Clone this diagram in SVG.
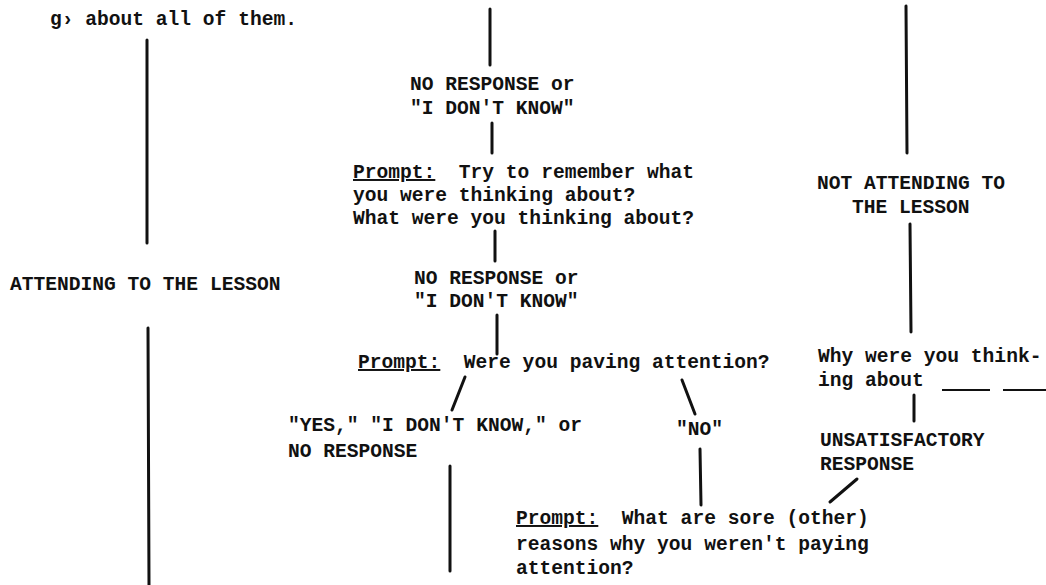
<svg xmlns="http://www.w3.org/2000/svg" width="1046" height="585" viewBox="0 0 1046 585" xml:space="preserve">
<style>
text{font-family:"Liberation Mono","DejaVu Sans Mono",monospace;font-size:19.6px;font-weight:bold;fill:#111;white-space:pre}
.u{text-decoration:underline}
#connectors line{stroke:#111;stroke-width:3;stroke-linecap:round}
.blank{stroke:#111;stroke-width:2}
</style>
<rect width="1046" height="585" fill="#fff"/>
<g id="connectors">
<line x1="147" y1="40" x2="147" y2="243"/>
<line x1="148" y1="328" x2="149" y2="585"/>
<line x1="490" y1="9" x2="490" y2="65"/>
<line x1="492" y1="123" x2="492" y2="153"/>
<line x1="495" y1="231" x2="495" y2="261"/>
<line x1="497" y1="315" x2="497" y2="354"/>
<line x1="465" y1="377" x2="452" y2="410"/>
<line x1="682" y1="380" x2="695" y2="414"/>
<line x1="700" y1="449" x2="701" y2="505"/>
<line x1="450" y1="466" x2="450" y2="571"/>
<line x1="906" y1="6" x2="907" y2="153"/>
<line x1="910" y1="224" x2="911" y2="332"/>
<line x1="914" y1="395" x2="914" y2="421"/>
<line x1="857" y1="479" x2="830" y2="502"/>
</g>
<g id="n-top-left"><text x="50" y="25">g› about all of them.</text></g>
<g id="n-no-response-1"><text x="410" y="90">NO RESPONSE or</text><text x="410" y="114">"I DON'T KNOW"</text></g>
<g id="n-prompt-remember"><text x="353" y="178"><tspan class="u">Prompt:</tspan>  Try to remember what</text><text x="353" y="201">you were thinking about?</text><text x="353" y="224">What were you thinking about?</text></g>
<g id="n-attending"><text x="10" y="290">ATTENDING TO THE LESSON</text></g>
<g id="n-no-response-2"><text x="414" y="284">NO RESPONSE or</text><text x="414" y="307">"I DON'T KNOW"</text></g>
<g id="n-prompt-paying"><text x="358" y="368"><tspan class="u">Prompt:</tspan>  Were you paving attention?</text></g>
<g id="n-yes"><text x="288" y="431">"YES," "I DON'T KNOW," or</text><text x="288" y="457">NO RESPONSE</text></g>
<g id="n-no"><text x="676" y="435">"NO"</text></g>
<g id="n-not-attending"><text x="817" y="189">NOT ATTENDING TO</text><text x="852" y="213">THE LESSON</text></g>
<g id="n-why"><text x="818" y="362">Why were you think-</text><text x="818" y="386">ing about</text>
<line class="blank" x1="942" y1="390" x2="990" y2="390"/><line class="blank" x1="1003" y1="390" x2="1046" y2="390"/></g>
<g id="n-unsatisfactory"><text x="820" y="446">UNSATISFACTORY</text><text x="820" y="470">RESPONSE</text></g>
<g id="n-prompt-reasons"><text x="516" y="524"><tspan class="u">Prompt:</tspan>  What are sore (other)</text><text x="516" y="550">reasons why you weren't paying</text><text x="516" y="574">attention?</text></g>
</svg>
